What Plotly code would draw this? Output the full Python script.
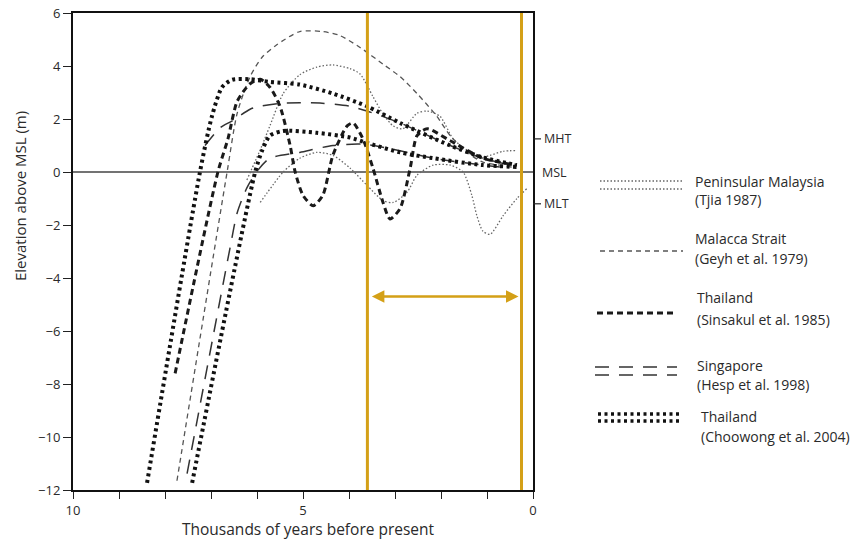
import plotly.graph_objects as go

# ---- Sea-level envelopes (age in ka BP, elevation in m above MSL) ----
pm_upper_age = [6.22, 5.89, 5.72, 5.43, 5.07, 4.70, 4.35, 3.98, 3.76, 3.48, 3.26, 3.04, 2.83, 2.52, 2.30, 2.02, 1.74, 1.43, 1.22, 0.93, 0.65, 0.35]
pm_upper_elev = [-0.3, 1.0, 1.74, 2.96, 3.67, 3.96, 4.04, 3.9, 3.7, 2.85, 2.19, 1.74, 1.63, 2.22, 2.3, 2.1, 1.26, 0.81, 0.52, 0.63, 0.78, 0.81]

pm_lower_age = [5.93, 5.43, 5.07, 4.70, 4.35, 3.98, 3.61, 3.26, 3.04, 2.74, 2.52, 2.17, 1.80, 1.52, 1.33, 1.22, 1.09, 0.93, 0.65, 0.35, 0.13]
pm_lower_elev = [-1.15, 0.0, 0.52, 0.74, 0.63, 0.15, -0.5, -1.08, -1.15, -0.77, -0.12, 0.26, 0.26, 0.0, -0.88, -1.65, -2.23, -2.35, -1.65, -1.0, -0.62]

malacca_age = [7.74, 6.65, 6.43, 6.15, 5.89, 5.57, 5.07, 4.57, 4.20, 3.76, 3.26, 2.89, 2.52, 2.09, 1.80, 1.43, 1.09, 0.72, 0.35]
malacca_elev = [-11.65, 0.0, 2.22, 3.6, 4.33, 4.8, 5.3, 5.3, 5.15, 4.7, 4.07, 3.6, 2.96, 2.1, 1.37, 0.74, 0.37, 0.26, 0.15]

sinsakul_age = [7.78, 6.85, 6.63, 6.43, 6.15, 5.93, 5.72, 5.50, 5.28, 5.17, 5.0, 4.78, 4.57, 4.35, 4.04, 3.91, 3.70, 3.48, 3.26, 3.11, 2.89, 2.67, 2.52, 2.30, 1.80, 1.09, 0.35]
sinsakul_elev = [-7.6, 0.0, 1.26, 2.67, 3.33, 3.5, 3.2, 2.48, 1.0, 0.0, -0.88, -1.27, -0.88, 0.63, 1.74, 1.85, 1.26, 0.15, -1.15, -1.77, -1.38, 0.15, 1.37, 1.63, 1.18, 0.52, 0.26]

sing_upper_age = [7.13, 6.80, 6.54, 6.15, 5.93, 5.43, 4.63, 3.98, 3.61, 2.89, 1.80, 1.09, 0.50]
sing_upper_elev = [1.0, 1.67, 1.93, 2.37, 2.48, 2.6, 2.6, 2.48, 2.3, 1.85, 1.0, 0.52, 0.26]

sing_lower_age = [7.52, 6.59, 6.43, 6.22, 5.98, 5.72, 5.07, 4.35, 3.70, 2.89, 2.17, 1.09, 0.72]
sing_lower_elev = [-11.38, -2.9, -1.54, -0.6, 0.07, 0.52, 0.74, 1.0, 1.05, 0.8, 0.52, 0.26, 0.19]

choo_upper_age = [8.39, 7.24, 6.98, 6.76, 6.54, 6.15, 5.72, 5.07, 4.35, 3.61, 2.89, 1.80, 1.09, 0.35]
choo_upper_elev = [-11.73, 0.0, 2.1, 3.2, 3.48, 3.5, 3.4, 3.3, 2.96, 2.48, 1.85, 1.0, 0.55, 0.26]

choo_lower_age = [7.41, 6.04, 5.89, 5.72, 5.43, 4.70, 3.98, 3.61, 2.89, 2.17, 1.09, 0.35]
choo_lower_elev = [-11.73, 0.0, 0.8, 1.37, 1.55, 1.48, 1.3, 1.1, 0.74, 0.52, 0.26, 0.19]

# Tidal datums and the highlighted interval
datum_names = ["MHT", "MSL", "MLT"]
datum_levels = [1.25, 0.0, -1.2]
window_ages = [3.6, 0.25]
window_arrow_level = -4.7

# Axis ticks
x_tick_vals = list(range(0, 11))
x_tick_text = ["0", "", "", "", "", "5", "", "", "", "", "10"]
y_tick_vals = [-12, -10, -8, -6, -4, -2, 0, 2, 4, 6]

legend_labels = [
    ("Peninsular Malaysia", "(Tjia 1987)"),
    ("Malacca Strait", "(Geyh et al. 1979)"),
    ("Thailand", "(Sinsakul et al. 1985)"),
    ("Singapore", "(Hesp et al. 1998)"),
    ("Thailand", "(Choowong et al. 2004)"),
]

# ---- line styles ----
STYLE = {
    "pm": dict(color="#666666", width=1.3, dash="1.5px,2px"),
    "malacca": dict(color="#555555", width=1.3, dash="5px,4px"),
    "sinsakul": dict(color="#1a1a1a", width=3.0, dash="6px,4px"),
    "sing": dict(color="#333333", width=1.5, dash="14px,10px"),
    "choo": dict(color="#111111", width=4.0, dash="3px,3.5px"),
}

series = [
    (pm_upper_age, pm_upper_elev, "pm"),
    (pm_lower_age, pm_lower_elev, "pm"),
    (malacca_age, malacca_elev, "malacca"),
    (sing_upper_age, sing_upper_elev, "sing"),
    (sing_lower_age, sing_lower_elev, "sing"),
    (sinsakul_age, sinsakul_elev, "sinsakul"),
    (choo_upper_age, choo_upper_elev, "choo"),
    (choo_lower_age, choo_lower_elev, "choo"),
]

W, H = 853, 541
L, R, T, B = 73, 533, 13, 490  # plot box in pixels


def px(x):
    return (x - L) / (R - L)


def py(y):
    return (B - y) / (B - T)


fig = go.Figure()

for ages, elev, key in series:
    fig.add_trace(go.Scatter(
        x=ages, y=elev, mode="lines",
        line=dict(shape="spline", smoothing=0.7, **STYLE[key]),
        showlegend=False, hoverinfo="skip",
    ))

shapes = []
annotations = []
FONT = "Open Sans"
TXT = "#2a2a2a"

# mean sea level line
shapes.append(dict(type="line", xref="x", yref="y", x0=10, x1=0, y0=0, y1=0,
                   line=dict(color="#444444", width=1.5), layer="below"))

# highlighted window
for a in window_ages:
    shapes.append(dict(type="line", xref="x", yref="y", x0=a, x1=a, y0=-12, y1=6,
                       line=dict(color="#D4A017", width=3)))
annotations.append(dict(x=window_ages[1], y=window_arrow_level, ax=window_ages[0], ay=window_arrow_level,
                        xref="x", yref="y", axref="x", ayref="y", text="", showarrow=True,
                        arrowhead=2, startarrowhead=2, arrowside="end+start", arrowsize=1,
                        arrowwidth=2.5, arrowcolor="#D4A017", standoff=3, startstandoff=3))

# datum markers on the right frame
for name, lvl in zip(datum_names, datum_levels):
    if name != "MSL":
        shapes.append(dict(type="line", xref="paper", yref="y", x0=1.0, x1=px(541), y0=lvl, y1=lvl,
                           line=dict(color="#222222", width=1.2)))
        xpos = px(542)
    else:
        xpos = px(540)
    annotations.append(dict(x=xpos, y=lvl, xref="paper", yref="y", text=name, showarrow=False,
                            xanchor="left", yanchor="middle",
                            font=dict(family=FONT, size=12.5, color=TXT)))

# axis titles
annotations.append(dict(x=px(308), y=py(529), xref="paper", yref="paper",
                        text="Thousands of years before present", showarrow=False,
                        xanchor="center", yanchor="middle",
                        font=dict(family=FONT, size=15.5, color=TXT)))
annotations.append(dict(x=px(20), y=py(196), xref="paper", yref="paper",
                        text="Elevation above MSL (m)", showarrow=False, textangle=-90,
                        xanchor="center", yanchor="middle",
                        font=dict(family=FONT, size=15, color=TXT)))

# legend keys: (style, [row y in px], x0, x1, title y, sub y, text x)
legend_keys = [
    ("pm", [181, 189], 600, 683, 182, 200, 693),
    ("malacca", [251], 600, 683, 238, 258, 693),
    ("sinsakul", [313], 597, 673, 297, 319, 695),
    ("sing", [367, 375], 595, 677, 365, 384, 695),
    ("choo", [414, 421], 598, 682, 416, 436, 699),
]
for (key, rows, x0, x1, ty, sy, tx), (t1, t2) in zip(legend_keys, legend_labels):
    st = STYLE[key]
    for ry in rows:
        shapes.append(dict(type="line", xref="paper", yref="paper", x0=px(x0), x1=px(x1),
                           y0=py(ry), y1=py(ry),
                           line=dict(color=st["color"], width=min(st["width"], 3.4), dash=st["dash"])))
    annotations.append(dict(x=px(tx), y=py(ty), xref="paper", yref="paper", text=t1, showarrow=False,
                            xanchor="left", yanchor="middle", font=dict(family=FONT, size=14, color=TXT)))
    annotations.append(dict(x=px(tx), y=py(sy), xref="paper", yref="paper", text=t2, showarrow=False,
                            xanchor="left", yanchor="middle", font=dict(family=FONT, size=14, color=TXT)))

fig.update_layout(
    template="none",
    width=W, height=H,
    margin=dict(l=L, r=W - R, t=T, b=H - B, pad=0),
    paper_bgcolor="white", plot_bgcolor="white",
    shapes=shapes, annotations=annotations,
    xaxis=dict(range=[10, 0], tickmode="array", tickvals=x_tick_vals, ticktext=x_tick_text,
               ticks="outside", ticklen=7, tickwidth=1.3, tickcolor="#222222", automargin=False,
               showgrid=False, zeroline=False, showline=True, linecolor="#111111", linewidth=2,
               mirror=True, tickfont=dict(family=FONT, size=13, color=TXT)),
    yaxis=dict(range=[-12, 6], tickmode="array", tickvals=y_tick_vals,
               ticks="outside", ticklen=8, tickwidth=1.3, tickcolor="#222222", automargin=False,
               showgrid=False, zeroline=False, showline=True, linecolor="#111111", linewidth=2,
               mirror=True, tickfont=dict(family=FONT, size=13, color=TXT)),
)

fig.write_html("out.html")
